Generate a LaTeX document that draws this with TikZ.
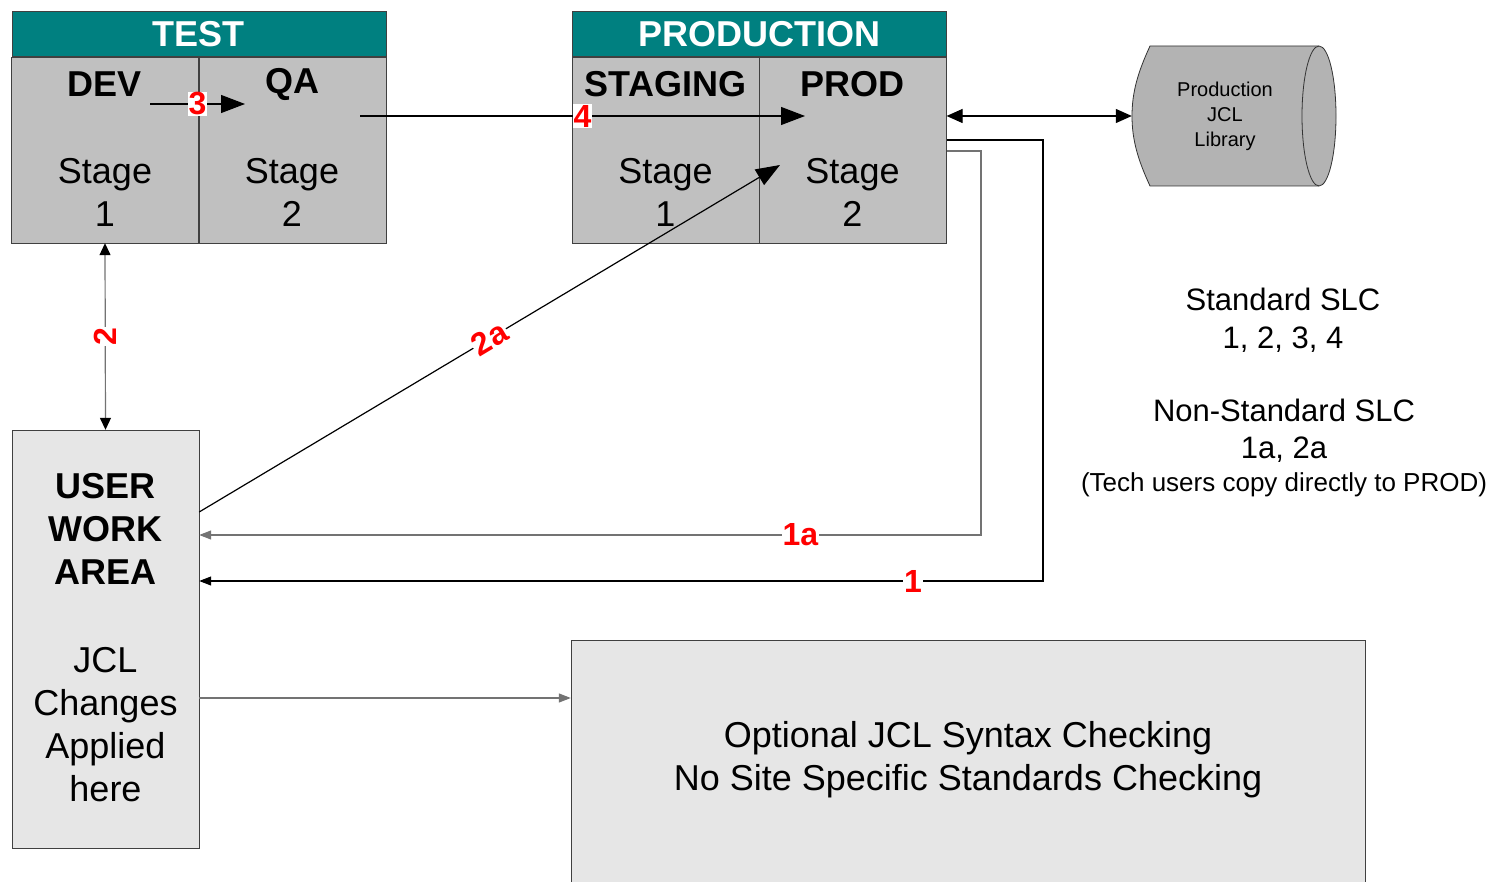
\documentclass[tikz,border=0pt]{standalone}
\usepackage{fontspec}
\setmainfont{Liberation Sans}
\usetikzlibrary{positioning, arrows.meta}
\definecolor{hdrteal}{HTML}{008080}
\definecolor{stagegray}{HTML}{C0C0C0}
\definecolor{areagray}{HTML}{E6E6E6}
\definecolor{libgray}{HTML}{B3B3B3}
\newcommand{\fsz}[2]{\fontsize{#1}{#2}\selectfont}
\tikzset{x=1pt, y=-1pt,
  hdr/.style={draw=black!75, fill=hdrteal, text=white, font=\bfseries\fsz{36}{42}, minimum width=374pt, minimum height=45pt, inner sep=0pt},
  stagebox/.style={draw=black!75, fill=stagegray, minimum width=187pt, minimum height=186pt, inner sep=0pt},
  ttl/.style={font=\bfseries\fsz{36}{43}, align=center},
  txt/.style={font=\fsz{36}{43}, align=center},
  num/.style={text=red, fill=white, font=\bfseries\fsz{32}{32}, inner sep=1pt},
  conn/.style={line width=1.2pt},
  tipL/.style={-{Triangle[length=24pt,width=18pt]}},
  tipS/.style={-{Triangle[length=12pt,width=9pt]}}
}

\begin{document}
\begin{tikzpicture}
\useasboundingbox[fill=white] (0,0) rectangle (1494,882);
% test area
\node[stagebox] (dev) at (105,150) {};
\node[stagebox, right=0pt of dev] (qa) {};
\node[hdr, anchor=south] (test) at (dev.north east) {TEST};
\node[ttl] at (105,84) {DEV};
\node[ttl] at (292,84) {QA};
\node[txt] at (105,192) {Stage\\1};
\node[txt] at (292,192) {Stage\\2};
% production area
\node[stagebox] (stg) at (665.5,150) {};
\node[stagebox, right=0pt of stg] (prod) {};
\node[hdr, anchor=south] (prodhdr) at (stg.north east) {PRODUCTION};
\node[ttl] at (665.5,84) {STAGING};
\node[ttl] at (852.5,84) {PROD};
\node[txt] at (665.5,192) {Stage\\1};
\node[txt] at (852.5,192) {Stage\\2};
% library
\draw[draw=black!80, fill=libgray, line width=0.8pt] (1150,46) -- (1319,46)
  .. controls (1328.4,46) and (1336,77.3) .. (1336,116)
  .. controls (1336,154.7) and (1328.4,186) .. (1319,186) -- (1150,186)
  .. controls (1138,160) and (1132,140) .. (1132,116)
  .. controls (1132,92) and (1138,72) .. (1150,46) -- cycle;
\draw[draw=black!80, line width=0.8pt] (1319,46)
  .. controls (1309.6,46) and (1302,77.3) .. (1302,116)
  .. controls (1302,154.7) and (1309.6,186) .. (1319,186);
\node[font=\fsz{20}{25}, align=center, minimum width=186pt, minimum height=140pt, inner sep=0pt] (lib) at (1225,116) {Production\\JCL\\Library};
% work areas
\node[draw=black!75, fill=areagray, minimum width=187pt, minimum height=418pt] (user) at (105.5,639) {};
\node[ttl] at (105.5,529) {USER\\WORK\\AREA};
\node[txt] at (105.5,724.5) {JCL\\Changes\\Applied\\here};
\node[draw=black!75, fill=areagray, minimum width=794pt, minimum height=252pt] (opt) at (968,766) {};
\node[txt] at (968,760) {Optional JCL Syntax Checking\\No Site Specific Standards Checking};
% legend
\node[font=\fsz{31}{38}, align=center] (std) at (1283,320) {Standard SLC\\1, 2, 3, 4};
\node[font=\fsz{31}{37}, align=center] (nonstd) at (1284,431) {Non-Standard SLC\\1a, 2a};
\node[font=\fsz{26}{30}] (tech) at (1284,485) {(Tech users copy directly to PROD)};
% connectors
\coordinate (s3) at (150,104); \coordinate (e3) at (245,104);
\coordinate (s4) at (360,116); \coordinate (e4) at (805,116);
\coordinate (e2a) at (780,165);
\draw[conn, tipL] (s3) -- node[num, pos=0.5]{3} (e3);
\draw[conn, tipL] (s4) -- node[num, pos=0.5]{4} (e4);
\draw[conn, {Triangle[length=16pt,width=14pt]}-{Triangle[length=16pt,width=14pt]}] (prod.east |- lib.west) -- (lib.west);
\draw[conn, black!55, {Triangle[length=12pt,width=11pt,fill=black,color=black]}-{Triangle[length=12pt,width=11pt,fill=black,color=black]}] (dev.south) -- node[num, rotate=90]{2} (user.north);
\draw[conn, tipL] (user.east |- 0,512) -- node[num, sloped]{2a} (e2a);
\draw[conn, black!55, tipS] (prod.east |- 0,151) -| (981,535) -- node[num, pos=0.231]{1a} (user.east |- 0,535);
\draw[conn, tipS] (prod.east |- 0,140) -| (1043,581) -- node[num, pos=0.154]{1} (user.east |- 0,581);
\draw[conn, black!55, tipS] (user.east |- 0,698) coordinate (u6) -- (u6 -| opt.west);
\end{tikzpicture}
\end{document}
